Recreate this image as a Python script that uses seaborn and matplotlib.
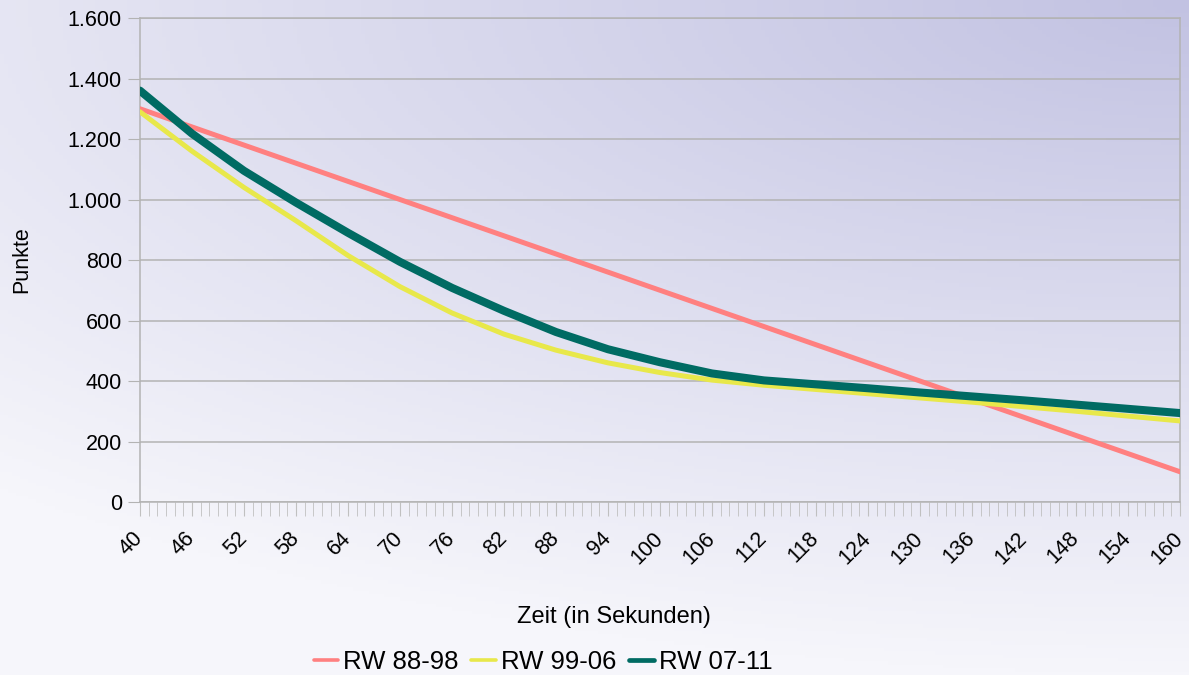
import numpy as np
import pandas as pd
import matplotlib
matplotlib.use("Agg")
import matplotlib.pyplot as plt
import seaborn as sns
from matplotlib.ticker import FuncFormatter, MultipleLocator

zeit = [40, 46, 52, 58, 64, 70, 76, 82, 88, 94, 100, 106, 112, 118, 124,
        130, 136, 142, 148, 154, 160]
x_ticks = zeit

# Punkte je Regelwerk
rw_88_98 = [1300, 1240, 1180, 1120, 1060, 1000, 940, 880, 820, 760, 700,
            640, 580, 520, 460, 400, 340, 280, 220, 160, 100]
rw_99_06 = [1290, 1160, 1040, 930, 815, 712, 625, 555, 502, 460, 428,
            403, 386, 372, 358, 344, 330, 315, 300, 284, 268]
rw_07_11 = [1360, 1218, 1095, 990, 890, 794, 708, 632, 562, 505, 462,
            425, 402, 389, 376, 362, 349, 336, 322, 308, 294]

serien = ["RW 88-98", "RW 99-06", "RW 07-11"]
farben = ["#ff8080", "#e8e84a", "#006b63"]
breiten = [3.6, 3.6, 5.8]

df = pd.DataFrame({
    "Zeit": zeit * 3,
    "Punkte": rw_88_98 + rw_99_06 + rw_07_11,
    "Serie": [s for s in serien for _ in zeit],
})

sns.set_style("white")
plt.rcParams["font.family"] = ["Liberation Sans", "DejaVu Sans"]
plt.rcParams["text.color"] = "black"

fig = plt.figure(figsize=(11.89, 6.75), dpi=100)

# Hintergrund mit Farbverlauf
bg = fig.add_axes([0, 0, 1, 1], zorder=-10)
xx, yy = np.meshgrid(np.linspace(0, 1, 300), np.linspace(0, 1, 200))
d = np.sqrt((1 - xx) ** 2 * 0.8 + (yy * 1.3) ** 2)
t = np.clip(d / 1.3, 0, 1)[..., None]
lav = np.array([194, 194, 226]) / 255
hell = np.array([246, 246, 251]) / 255
img = lav * (1 - t) + hell * t
bg.imshow(img, aspect="auto", extent=[0, 1, 0, 1], origin="upper")
bg.axis("off")

ax = fig.add_axes([0.1177, 0.2563, 0.8747, 0.717])
ax.patch.set_alpha(0)

for name, col, lw in zip(serien, farben, breiten):
    sns.lineplot(data=df[df["Serie"] == name], x="Zeit", y="Punkte",
                 color=col, linewidth=lw, label=name, ax=ax, zorder=3)

ax.set_xlim(40, 160)
ax.set_ylim(0, 1600)
ax.set_xticks(x_ticks)
ax.set_xticklabels([str(v) for v in x_ticks], rotation=45, ha="right", va="center",
                   rotation_mode="anchor")
ax.xaxis.set_minor_locator(MultipleLocator(1))
ax.yaxis.set_major_locator(MultipleLocator(200))
ax.yaxis.set_major_formatter(FuncFormatter(lambda v, p: f"{v:,.0f}".replace(",", ".")))

ax.grid(axis="y", color="#b3b3b3", linewidth=1.1)
for sp in ax.spines.values():
    sp.set_color("#b3b3b3")
    sp.set_linewidth(1.1)

ax.tick_params(axis="x", which="both", direction="out", length=10, color="#c0c0c0",
               bottom=True, labelsize=15.5, pad=14, labelcolor="black")
ax.tick_params(axis="y", which="major", direction="out", length=9, color="#b3b3b3",
               left=True, labelsize=15.5, pad=4, labelcolor="black")

ax.set_xlabel("Zeit (in Sekunden)", fontsize=17, color="black")
ax.xaxis.set_label_coords(0.456, -0.215)
ax.set_ylabel("Punkte", fontsize=15.5, color="black")
ax.yaxis.set_label_coords(-0.104, 0.5)

ax.get_legend().remove()
handles, labels = ax.get_legend_handles_labels()
leg = fig.legend(handles, labels, loc="center", bbox_to_anchor=(543 / 1189, 1 - 662 / 675),
                 ncol=3, frameon=False, fontsize=18.5, handlelength=0.95,
                 handletextpad=0.2, columnspacing=0.5, labelcolor="black")
for l, w in zip(leg.get_lines(), [2.6, 2.6, 3.4]):
    l.set_linewidth(w)

fig.savefig("out.png", dpi=100)
